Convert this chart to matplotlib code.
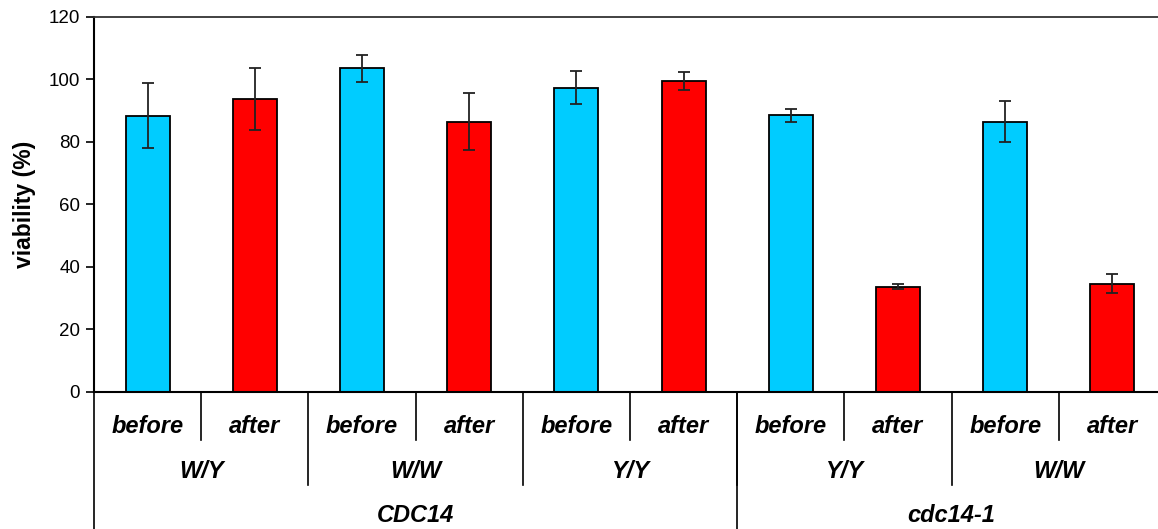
import numpy as np
import matplotlib
matplotlib.use('Agg')
import matplotlib.pyplot as plt
from matplotlib.transforms import blended_transform_factory

plt.rcParams['font.family'] = ['Liberation Sans', 'DejaVu Sans']

#######
## data
conditions = ['before', 'after'] * 5
genotypes = ['W/Y', 'W/W', 'Y/Y', 'Y/Y', 'W/W']
strains = ['CDC14', 'cdc14-1']
strain_groups = [3, 2]          # number of genotypes in each strain
viability = [88.4, 93.7, 103.5, 86.5, 97.4, 99.4, 88.5, 33.7, 86.5, 34.7]
errors = [10.4, 10.0, 4.3, 9.2, 5.4, 2.9, 2.0, 0.7, 6.5, 3.0]
#######

colors = ['#00CCFF' if c == 'before' else '#FF0000' for c in conditions]

fig = plt.figure(figsize=(11.58, 5.29), dpi=100)
ax = fig.add_axes([0.0812, 0.259, 0.9257, 0.709])

x = np.arange(len(viability))
ax.bar(x, viability, width=0.41, color=colors, edgecolor='black', linewidth=1.3, zorder=2)
ax.errorbar(x, viability, yerr=errors, fmt='none', ecolor='#222222',
            elinewidth=1.3, capsize=4, capthick=1.3, zorder=3)

ax.set_xlim(-0.5, len(viability) - 0.5)
ax.set_ylim(0, 120)
ax.set_yticks(np.arange(0, 121, 20))
ax.set_xticks([])
ax.tick_params(axis='y', direction='out', length=6, width=1.2, labelsize=13.5, pad=4)

ax.spines['right'].set_visible(False)
ax.spines['top'].set_color('#333333')
ax.spines['top'].set_linewidth(1.3)
ax.spines['left'].set_linewidth(1.5)
ax.spines['bottom'].set_linewidth(1.5)

ax.set_ylabel('viability (%)', fontsize=16.5, fontweight='bold', labelpad=9)

### ------------------------ category axis --------------------------
trans = blended_transform_factory(ax.transData, ax.transAxes)
lk = dict(color='black', linewidth=1.2, transform=trans, clip_on=False)
tk = dict(fontsize=17, fontweight='bold', fontstyle='italic',
          ha='center', va='center', transform=trans)

# condition labels and short dividers
for i, c in enumerate(conditions):
    ax.text(i, -0.091, c, **tk)
    if i % 2 == 0:
        ax.plot([i + 0.5, i + 0.5], [0, -0.128], **lk)

# genotype labels and medium dividers
for j, g in enumerate(genotypes):
    ax.text(2 * j + 0.5, -0.211, g, **tk)
    if j > 0:
        ax.plot([2 * j - 0.5, 2 * j - 0.5], [0, -0.248], **lk)

# strain labels and long dividers
start = 0
for s, n in zip(strains, strain_groups):
    left = 2 * start - 0.5
    right = 2 * (start + n) - 0.5
    ax.text((left + right) / 2, -0.328, s, **tk)
    ax.plot([left, left], [0, -0.4], **lk)
    start += n

fig.savefig('out.png', dpi=100)
